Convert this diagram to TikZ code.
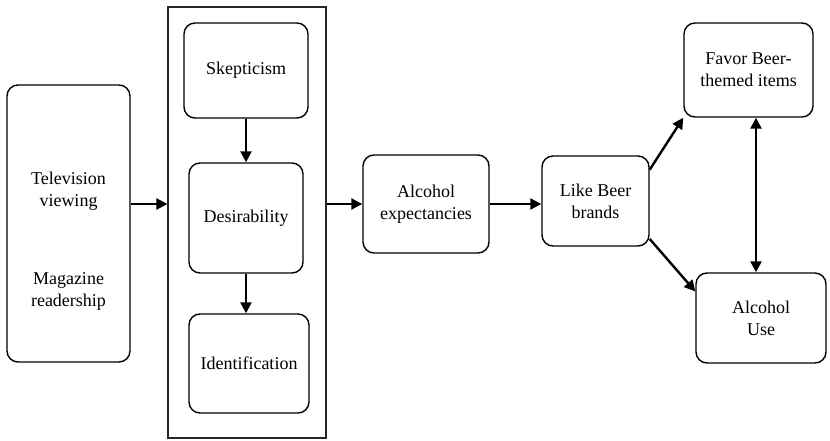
\documentclass[tikz,border=0pt]{standalone}
\usepackage{fontspec}
\setmainfont{Liberation Serif}
\usetikzlibrary{arrows.meta,positioning}
\begin{document}
\begin{tikzpicture}[x=1pt,y=-1pt]
\tikzstyle{every node}=[align=center,inner sep=0pt,font=\fontsize{18}{22}\selectfont]
\tikzstyle{box}=[rectangle,rounded corners=11pt,draw,line width=1.4pt]
\tikzstyle{frame}=[rectangle,draw,line width=1.2pt,black!85]
\tikzstyle{link}=[-{Triangle[length=11pt,width=11pt]},line width=2.4pt]
\useasboundingbox (0,0) rectangle (830,441);
\node[frame,minimum width=158,minimum height=431] (frame) at (247,222.5) {};
\node[box,minimum width=123,minimum height=277] (tv) at (68.5,223.5) {};
\node (tvtext) at (68.5,191) {Television\\viewing};
\node (magtext) at (68.5,291) {Magazine\\readership};
\node[box,minimum width=124,minimum height=95] (skep) at (246,70.5) {Skepticism};
\node[box,minimum width=114,minimum height=110] (des) at (246,218) {Desirability};
\node[box,minimum width=120,minimum height=99] (ident) at (249,363.5) {Identification};
\node[box,minimum width=126,minimum height=98] (alc) at (426,204) {Alcohol\\expectancies};
\node[box,minimum width=107,minimum height=90] (like) at (595.5,201) {Like Beer\\brands};
\node[box,minimum width=129,minimum height=94] (favor) at (748.5,70) {Favor Beer-\\themed items};
\node[box,minimum width=130,minimum height=90] (use) at (761,318) {Alcohol\\Use};
% connectors
\draw[link] (tv.east |- alc) -- (frame.west |- alc);
\draw[link] (frame.east |- alc) -- (alc);
\draw[link] (skep) -- (des);
\draw[link] (des.south) -- (des.south |- ident.north);
\draw[link] (alc) -- (like.west |- alc);
\draw[link] (like.30) -- (favor.south west);
\draw[link] (like.-35) -- (use.158);
\draw[link,{Triangle[length=11pt,width=11pt]}-{Triangle[length=11pt,width=11pt]}] ([xshift=7.5pt]favor.south) -- ([xshift=7.5pt]favor.south |- use.north);
\end{tikzpicture}
\end{document}
